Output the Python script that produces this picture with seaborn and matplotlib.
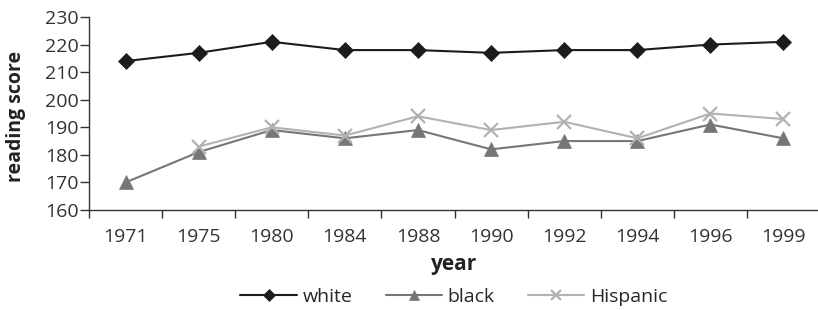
import matplotlib
matplotlib.use("Agg")
import matplotlib.pyplot as plt
import seaborn as sns
import pandas as pd
import numpy as np
from matplotlib.ticker import FixedLocator

years = ["1971", "1975", "1980", "1984", "1988", "1990", "1992", "1994", "1996", "1999"]
white = [214, 217, 221, 218, 218, 217, 218, 218, 220, 221]
black = [170, 181, 189, 186, 189, 182, 185, 185, 191, 186]
hispanic = [np.nan, 183, 190, 187, 194, 189, 192, 186, 195, 193]
series_names = ["white", "black", "Hispanic"]
y_ticks = [160, 170, 180, 190, 200, 210, 220, 230]

sns.set_style("white")
plt.rcParams["font.family"] = ["Open Sans", "DejaVu Sans"]

rows = []
for name, vals in zip(series_names, [white, black, hispanic]):
    for yr, v in zip(years, vals):
        rows.append({"year": yr, "score": v, "group": name})
df = pd.DataFrame(rows)

colors = {"white": "#1c1c1c", "black": "#767676", "Hispanic": "#b2b2b2"}
markers = {"white": "D", "black": "^", "Hispanic": "x"}
msizes = {"white": 8.5, "black": 9.5, "Hispanic": 9.5}

fig = plt.figure(figsize=(8.18, 3.10), dpi=100)
ax = fig.add_axes([89 / 818, 1 - 210 / 310, (820 - 89) / 818, (210 - 17) / 310])

for name in series_names:
    sub = df[df["group"] == name].dropna()
    sns.lineplot(data=sub, x="year", y="score", ax=ax, color=colors[name],
                 marker=markers[name], markersize=msizes[name],
                 markeredgewidth=1.6 if name == "Hispanic" else 0.5,
                 markeredgecolor=colors[name], linewidth=1.5, label=name,
                 sort=False)

ax.set_xlim(-0.5, len(years) - 0.5)
ax.set_ylim(160, 230)
ax.set_yticks(y_ticks)
ax.set_xticks(range(len(years)))
ax.set_xticklabels(years)
ax.xaxis.set_minor_locator(FixedLocator(np.arange(-0.5, len(years), 1)))
ax.tick_params(axis="x", which="major", length=0, labelsize=14, pad=13, labelcolor="#333333")
ax.tick_params(axis="x", which="minor", length=6, width=1, color="#333333", direction="out", bottom=True)
ax.tick_params(axis="y", length=6.5, width=1, color="#333333", direction="out", left=True,
               labelsize=14, pad=1, labelcolor="#333333")
sns.despine(ax=ax)
for s in ["left", "bottom"]:
    ax.spines[s].set_color("#333333")
    ax.spines[s].set_linewidth(1)

ax.set_xlabel("year", fontsize=15, fontweight="bold", labelpad=6, color="#222222")
ax.set_ylabel("reading score", fontsize=14, fontweight="bold", color="#222222")
ax.yaxis.set_label_coords(-0.086, 0.487)

ax.legend(loc="center", bbox_to_anchor=(454 / 818, 1 - 297 / 310), bbox_transform=fig.transFigure,
          ncol=3, frameon=False, fontsize=14, handlelength=2.9, columnspacing=1.7,
          handletextpad=0.3, markerscale=0.75, borderpad=0, borderaxespad=0)

fig.savefig("out.png", dpi=100)
